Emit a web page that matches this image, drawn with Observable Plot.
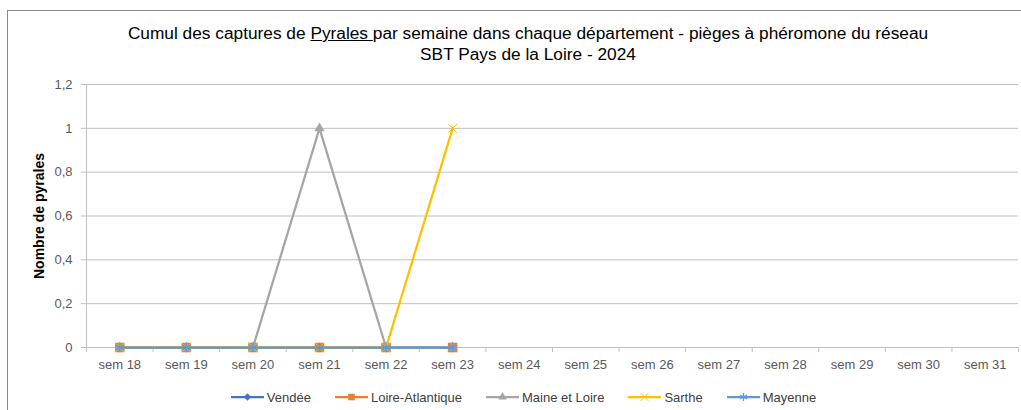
<!DOCTYPE html>
<html><head><meta charset="utf-8">
<script src="https://cdn.jsdelivr.net/npm/d3@7"></script>
<script src="https://cdn.jsdelivr.net/npm/@observablehq/plot@0.6"></script>
<style>
body{margin:0;background:#fff;width:1021px;height:410px;overflow:hidden;position:relative;font-family:"Liberation Sans",Arial,sans-serif;}
#frame{position:absolute;left:7px;top:10px;width:1030px;height:420px;border-left:1.5px solid #8c8c8c;border-top:1.5px solid #8c8c8c;}
#title{position:absolute;left:0;top:23px;width:1056px;text-align:center;font-family:"Liberation Sans Narrow","Liberation Sans",sans-serif;font-size:17.3px;line-height:21px;color:#000;}
#ylab{position:absolute;left:38.5px;top:216px;transform:translate(-50%,-50%) rotate(-90deg);white-space:nowrap;font-family:"Liberation Sans Narrow","Liberation Sans",sans-serif;font-weight:bold;font-size:14px;color:#000;}
#chart{position:absolute;left:0;top:0;}
#legend{position:absolute;left:0;top:388px;width:1047px;display:flex;justify-content:center;gap:24px;font-size:13px;color:#404040;}
.item{display:flex;align-items:center;height:18px;}
.item svg{margin-right:3px;}
</style></head>
<body>
<div id="frame"></div>
<div id="chart"></div>
<div id="title">Cumul des captures de <u>Pyrales </u>par semaine dans chaque département - pièges à phéromone du réseau<br>SBT Pays de la Loire - 2024</div>
<div id="ylab">Nombre de pyrales</div>
<div id="legend"></div>
<script>
const weeks = ["sem 18","sem 19","sem 20","sem 21","sem 22","sem 23","sem 24","sem 25","sem 26","sem 27","sem 28","sem 29","sem 30","sem 31"];
const seriesNames = ["Vendée","Loire-Atlantique","Maine et Loire","Sarthe","Mayenne"];
const seriesColors = ["#4472c4","#ed7d31","#a5a5a5","#ffc000","#5b9bd5"];
const seriesSymbols = ["diamond2","square","triangle","times","asterisk"];
const vendee = [0,0,0,0,0,0];
const loireAtlantique = [0,0,0,0,0,0];
const maineEtLoire = [0,0,0,1,0,0];
const sarthe = [0,0,0,0,0,1];
const mayenne = [0,0,0,0,0,0];
const yTicks = [0,0.2,0.4,0.6,0.8,1,1.2];

const values = [vendee, loireAtlantique, maineEtLoire, sarthe, mayenne];
const filled = {diamond2:true, square:true, triangle:true, times:false, asterisk:false};
const symR = {diamond2:4, square:5.4, triangle:3.8, times:4.2, asterisk:4.4};
const symW = {times:1, asterisk:1.3};

const marks = [
  Plot.gridY(yTicks, {stroke:"#bfbfbf", strokeOpacity:1, strokeWidth:1}),
  Plot.ruleY([0], {stroke:"#bfbfbf", strokeWidth:1}),
  Plot.ruleX([-0.5], {y1:0, y2:1.2, stroke:"#bfbfbf", strokeWidth:1}),
  Plot.axisY({ticks:yTicks, tickSize:5, tickPadding:9, tickFormat:d=>String(d).replace(".",","), stroke:"#bfbfbf", fill:"#595959", fontSize:13, label:null}),
  Plot.axisX({ticks:d3.range(-0.5,14,1), tickSize:5, tickFormat:()=>"", stroke:"#bfbfbf", label:null}),
  Plot.axisX({ticks:d3.range(0,14), tickSize:0, tickPadding:12, tickFormat:i=>weeks[i], fill:"#595959", fontSize:13, label:null})
];
values.forEach((vals,s)=>{
  const rows = vals.map((v,i)=>({i, v}));
  const sym = seriesSymbols[s], c = seriesColors[s];
  marks.push(Plot.line(rows, {x:"i", y:"v", stroke:c, strokeWidth:2.25}));
  marks.push(Plot.dot(rows, {x:"i", y:"v", symbol:sym, r:symR[sym],
    fill: filled[sym] ? c : "none", stroke: filled[sym] ? "none" : c, strokeWidth:symW[sym] || 1.3}));
});

const plot = Plot.plot({
  width:1021, height:375,
  marginLeft:86, marginRight:3, marginTop:84, marginBottom:28,
  x:{type:"linear", domain:[-0.5,13.5], axis:null},
  y:{domain:[0,1.2], axis:null},
  style:{background:"transparent", fontFamily:"'Liberation Sans', Arial, sans-serif"},
  marks
});
document.getElementById("chart").append(plot);

const symMap = {diamond2:d3.symbolDiamond2, square:d3.symbolSquare, triangle:d3.symbolTriangle, times:d3.symbolTimes, asterisk:d3.symbolAsterisk};
const leg = document.getElementById("legend");
seriesNames.forEach((name,s)=>{
  const sym = seriesSymbols[s], c = seriesColors[s];
  const item = document.createElement("div"); item.className="item";
  const r = Math.min(symR[sym], 4.4);
  const path = d3.symbol(symMap[sym], Math.PI*r*r*0.7)();
  item.innerHTML = `<svg width="33" height="18"><line x1="0" x2="33" y1="9" y2="9" stroke="${c}" stroke-width="2.25"/><path transform="translate(16.5,9)" d="${path}" fill="${filled[sym]?c:"none"}" stroke="${filled[sym]?"none":c}" stroke-width="${symW[sym]||1.3}"/></svg><span>${name}</span>`;
  leg.append(item);
});
</script>
</body></html>
